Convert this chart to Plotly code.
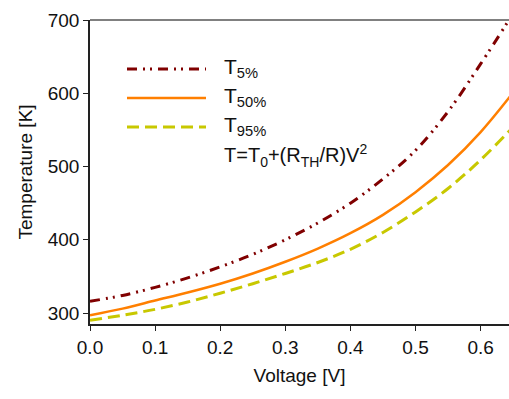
import plotly.graph_objects as go

voltage = [0.0, 0.05, 0.10, 0.15, 0.20, 0.25, 0.30, 0.35, 0.40, 0.45, 0.50, 0.55, 0.60, 0.65]
t_5 = [316, 324, 335, 348, 363, 380, 400, 423, 450, 483, 522, 575, 640, 709]
t_50 = [297, 306, 317, 328, 340, 354, 370, 388, 409, 434, 465, 502, 547, 601]
t_95 = [290, 297, 305, 315, 327, 340, 354, 369, 387, 410, 438, 470, 509, 554]

x_ticks = [0.0, 0.1, 0.2, 0.3, 0.4, 0.5, 0.6]
y_ticks = [300, 400, 500, 600, 700]

legend_labels = ["T<sub>5%</sub>", "T<sub>50%</sub>", "T<sub>95%</sub>"]
formula_label = "T=T<sub>0</sub>+(R<sub>TH</sub>/R)V<sup>2</sup>"

colors = ["#800000", "#FF7F00", "#C8C800"]
dashes = ["10px,6px,2px,5px,2px,6px", "solid", "12px,6px"]
widths = [3, 2.5, 3]

FONT = "Liberation Sans, Arial, sans-serif"

W, H = 509, 399
ML, MT = 90, 20
PR, PB = 509, 324
MR, MB = W - PR, H - PB
PW, PH = PR - ML, PB - MT

def px_x(x):
    return (x - ML) / PW

def px_y(y):
    return (PB - y) / PH

fig = go.Figure()
for ys, c, d, w in zip([t_5, t_50, t_95], colors, dashes, widths):
    fig.add_trace(go.Scatter(x=voltage, y=ys, mode="lines",
                             line=dict(color=c, dash=d, width=w, shape="spline"),
                             showlegend=False, hoverinfo="skip"))

shapes = []
annotations = []
legend_y = [69, 98, 127]
for lbl, c, d, w, yy in zip(legend_labels, colors, dashes, widths, legend_y):
    shapes.append(dict(type="line", xref="paper", yref="paper",
                       x0=px_x(127), x1=px_x(206), y0=px_y(yy), y1=px_y(yy),
                       line=dict(color=c, dash=d, width=w)))
    annotations.append(dict(xref="paper", yref="paper", x=px_x(222), y=px_y(yy - 1),
                            text=lbl, showarrow=False, xanchor="left", yanchor="middle",
                            font=dict(family=FONT, size=21, color="#111")))
annotations.append(dict(xref="paper", yref="paper", x=px_x(222), y=px_y(155),
                        text=formula_label, showarrow=False, xanchor="left", yanchor="middle",
                        font=dict(family=FONT, size=20, color="#111")))
shapes.append(dict(type="line", xref="paper", yref="paper", x0=0, x1=1, y0=1, y1=1,
                   line=dict(color="#808080", width=2)))

fig.update_layout(
    width=W, height=H,
    margin=dict(l=ML, r=MR, t=MT, b=MB, autoexpand=False),
    plot_bgcolor="white", paper_bgcolor="white",
    font=dict(family=FONT, size=19, color="#111"),
    shapes=shapes, annotations=annotations,
    xaxis=dict(range=[0, 0.6436], tickvals=x_ticks, tickformat=".1f", automargin=False,
               showgrid=False, zeroline=False, showline=True, linecolor="#222", linewidth=1.5,
               ticks="outside", ticklen=5, tickcolor="#222",
               title=dict(text="Voltage [V]", font=dict(size=19), standoff=12)),
    yaxis=dict(range=[285, 700], tickvals=y_ticks, automargin=False,
               showgrid=False, zeroline=False, showline=True, linecolor="#222", linewidth=1.5,
               ticks="outside", ticklen=5, tickcolor="#222",
               title=dict(text="Temperature [K]", font=dict(size=19), standoff=10)),
)

fig.write_html(
    "out.html",
    config={"displayModeBar": False},
    post_script="document.body.style.margin='0';document.body.style.overflow='hidden';",
)
